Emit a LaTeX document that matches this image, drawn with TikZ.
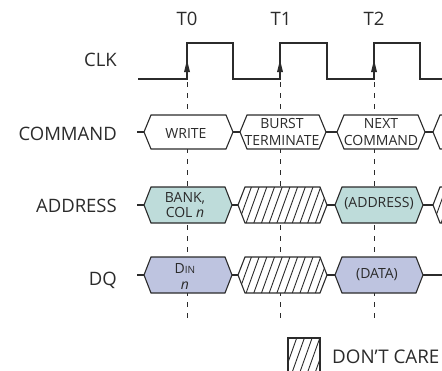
\documentclass[tikz,border=0pt]{standalone}
\usepackage{fontspec}
\setmainfont{Open Sans}
\definecolor{ink}{HTML}{2B2B2B}
\definecolor{addrfill}{HTML}{BEDCDA}
\definecolor{dqfill}{HTML}{BEC4E0}
\newcommand\hexat[4]{({#1},{#3}) -- ({#1+7},{#3-#4}) -- ({#2-7},{#3-#4}) -- ({#2},{#3}) -- ({#2-7},{#3+#4}) -- ({#1+7},{#3+#4}) -- cycle}
\newcommand\hatchhex[4]{%
  \fill[white] \hexat{#1}{#2}{#3}{#4};
  \begin{scope}
    \clip \hexat{#1}{#2}{#3}{#4};
    \foreach \k in {0,...,22} \draw[hatchline] ({#1-15+7.7*\k},{#3+#4}) -- ++(13,{-2*#4});
  \end{scope}
  \draw[sig] \hexat{#1}{#2}{#3}{#4};}
\begin{document}
\begin{tikzpicture}[x=1pt,y=-1pt,
  lbl/.style={font=\fontsize{18.5}{20}\selectfont, inner sep=0, text=ink},
  inbox/.style={font=\fontsize{14}{16.5}\selectfont, inner sep=0, align=center, text=ink},
  sig/.style={draw=ink, line width=1.1pt, line join=miter},
  hatchline/.style={draw=ink, line width=0.9pt},
  guide/.style={draw=ink, line width=1pt, dash pattern=on 5pt off 6pt}]
\useasboundingbox (0,0) rectangle (442,370);
\clip (0,0) rectangle (442,370);

% guide lines
\foreach \t in {187,280,374} \draw[guide] (\t,82) -- (\t,322);

% clock
\draw[sig] (138,79) -- (187,79) -- (187,43) -- (233,43) -- (233,79) -- (280,79) -- (280,43) -- (327,43) -- (327,79) -- (374,79) -- (374,43) -- (420,43) -- (420,79) -- (446,79);
\foreach \t in {187,280,374} \fill[ink] (\t,60) -- (\t-3,72) -- (\t+3,72) -- cycle;

% labels
\node[lbl] (t0) at (187,19) {T0};
\node[lbl] (t1) at (281,19) {T1};
\node[lbl] (t2) at (374,19) {T2};
\node[lbl, anchor=base east] (clk) at (117,66) {CLK};
\node[lbl, anchor=base east] (cmd) at (117,140) {COMMAND};
\node[lbl, anchor=base east] (addr) at (117,212) {ADDRESS};
\node[lbl, anchor=base east] (dq) at (117,285) {DQ};

% COMMAND row
\draw[sig] (137,132) -- (144,132) (233,132) -- (240,132) (326,132) -- (337,132) (425,132) -- (433,132);
\draw[sig, fill=white] \hexat{144}{233}{132}{17};
\draw[sig, fill=white] \hexat{240}{326}{132}{17};
\draw[sig, fill=white] \hexat{337}{425}{132}{17};
\draw[sig, fill=white] \hexat{433}{520}{132}{17};
\node[inbox] (wr) at (186,133) {WRITE};
\node[inbox] (bt) at (282,132) {BURST\\TERMINATE};
\node[inbox] (nc) at (381,132) {NEXT\\COMMAND};

% ADDRESS row
\draw[sig] (137,205) -- (144,205) (232,205) -- (238,205) (327,205) -- (335,205) (423,205) -- (433,205);
\draw[sig, fill=addrfill] \hexat{144}{232}{205}{18};
\hatchhex{238}{327}{205}{18}
\draw[sig, fill=addrfill] \hexat{335}{423}{205}{18};
\hatchhex{433}{520}{205}{18}
\node[inbox, font=\fontsize{14}{15.5}\selectfont] (bank) at (185,205) {BANK,\\COL \textit{n}};
\node[inbox] (adr) at (379,204) {(ADDRESS)};

% DQ row
\draw[sig] (137,275) -- (144,275) (232,275) -- (238,275) (327,275) -- (335,275) (423,275) -- (446,275);
\draw[sig, fill=dqfill] \hexat{144}{232}{275}{18};
\hatchhex{238}{327}{275}{18}
\draw[sig, fill=dqfill] \hexat{335}{423}{275}{18};
\node[inbox, font=\fontsize{14}{16}\selectfont] (din) at (185,276) {D{\fontsize{10}{10}\selectfont IN}\\\textit{n}};
\node[inbox] (dat) at (377,275) {(DATA)};

% legend
\fill[white] (288,338) rectangle (320,380);
\begin{scope}
  \clip (288,338) rectangle (320,380);
  \foreach \k in {0,...,8} \draw[hatchline] ({274+7.7*\k},380) -- ++(15,-42);
\end{scope}
\draw[sig] (288,380) -- (288,338) -- (320,338) -- (320,380);
\node[lbl, font=\fontsize{18.8}{20}\selectfont, anchor=base west] (dc) at (332,363) {DON’T CARE};
\end{tikzpicture}
\end{document}
